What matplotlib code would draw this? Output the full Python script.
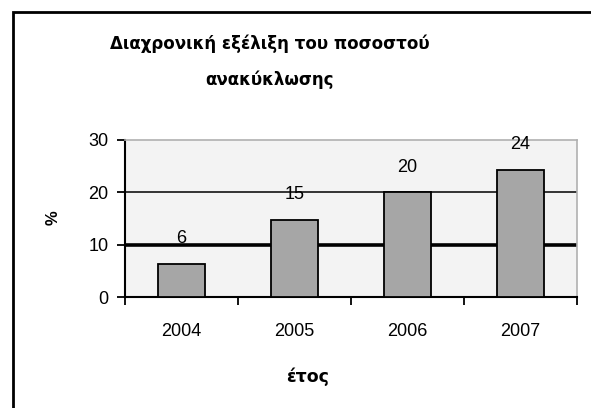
import matplotlib.pyplot as plt
from matplotlib.patches import Rectangle

# data
years = ['2004', '2005', '2006', '2007']
values = [6.3, 14.7, 20, 24.3]
labels = ['6', '15', '20', '24']
yticks = [0, 10, 20, 30]

plt.rcParams['font.family'] = ['Liberation Sans', 'DejaVu Sans']

fig = plt.figure(figsize=(5.91, 4.08), dpi=100)
W, H = 591, 408
ax = fig.add_axes([125 / W, 1 - 297 / H, (577 - 125) / W, (297 - 140) / H])
ax.set_facecolor('#f3f3f3')

x = list(range(len(years)))
ax.bar(x, values, width=0.41, color='#a6a6a6', edgecolor='black', linewidth=1.3, zorder=3)

# gridlines like the original (10 heavy, 20 thin)
ax.axhline(10, color='black', lw=2.6, zorder=1)
ax.axhline(20, color='black', lw=1.1, zorder=1)

for xi, v, lab in zip(x, values, labels):
    ax.annotate(lab, (xi, v), xytext=(0, 12), textcoords='offset points',
                ha='center', va='bottom', fontsize=13)

ax.set_xlim(-0.5, 3.5)
ax.set_ylim(0, 30)
ax.set_yticks(yticks)
ax.set_yticklabels([str(t) for t in yticks], fontsize=13)
ax.set_xticks([-0.5, 0.5, 1.5, 2.5, 3.5])
ax.set_xticklabels([])
ax.set_xticks(x, minor=True)
ax.set_xticklabels(years, minor=True, fontsize=13)
ax.tick_params(axis='x', which='minor', length=0, pad=19)
ax.tick_params(axis='x', which='major', length=6, width=1.3, direction='out')
ax.tick_params(axis='y', length=6, width=1.3, pad=6)

for s in ['left', 'bottom']:
    ax.spines[s].set_linewidth(1.5)
    ax.spines[s].set_color('black')
for s in ['top', 'right']:
    ax.spines[s].set_linewidth(1.2)
    ax.spines[s].set_color('#b0b0b0')

fig.text(270 / W, 1 - 62 / H, 'Διαχρονική εξέλιξη του ποσοστού\nανακύκλωσης',
         ha='center', va='center', fontsize=12, fontweight='bold',
         family='DejaVu Sans', linespacing=2.2)
fig.text(53 / W, 1 - 218 / H, '%', rotation=90, ha='center', va='center',
         fontsize=12, fontweight='bold')
fig.text(308 / W, 1 - 377 / H, 'έτος', ha='center', va='center',
         fontsize=12.5, fontweight='bold', family='DejaVu Sans')

# outer chart frame (cut off at right and bottom)
fig.patches.append(Rectangle((13 / W, -0.1), 1.0, 1 - 12 / H + 0.1,
                             transform=fig.transFigure, fill=False,
                             edgecolor='black', linewidth=2))

fig.savefig('out.png', dpi=100)
